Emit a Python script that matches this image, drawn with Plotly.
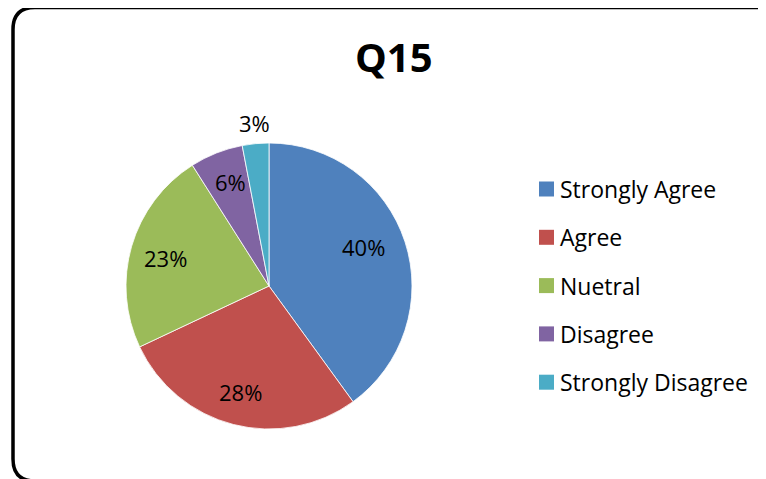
import math
import plotly.graph_objects as go

# ---- data ----
categories = ["Strongly Agree", "Agree", "Nuetral", "Disagree", "Strongly Disagree"]
values = [40, 28, 23, 6, 3]
title_text = "Q15"

# ---- styling ----
colors = ["#4F81BD", "#C0504D", "#9BBB59", "#8064A2", "#4BACC6"]
label_r = [0.711, 0.772, 0.751, 0.768, 1.134]     # label distance / radius
label_frac = [0.473, 0.508, 0.48, 0.56, 0.54]     # angular position inside slice
OX, OY = 8, 8                 # page body margin
W, H = 766 - OX, 479 - OY     # figure fills the rest of the window
FONT = "Open Sans"

cx, cy, R = 269, 286, 143  # pie centre / radius (window pixels)


def px(x):
    return (x - OX) / W


def py(y):
    return 1 - (y - OY) / H


fig = go.Figure()
fig.add_trace(go.Pie(
    labels=categories,
    values=values,
    marker=dict(colors=colors, line=dict(color="#FFFFFF", width=0.8)),
    sort=False,
    direction="clockwise",
    rotation=0,
    textinfo="none",
    hoverinfo="label+percent",
    showlegend=False,
    domain=dict(x=[px(cx - R), px(cx + R)], y=[py(cy + R), py(cy - R)]),
))

annotations = []
total = sum(values)
cum = 0.0
for v, rf, af in zip(values, label_r, label_frac):
    ang = (cum + v * af) / total * 2 * math.pi
    cum += v
    lx = cx + rf * R * math.sin(ang)
    ly = cy - rf * R * math.cos(ang) - 1
    annotations.append(dict(
        x=px(lx), y=py(ly), xref="paper", yref="paper",
        text=f"{round(v / total * 100)}%", showarrow=False,
        xanchor="center", yanchor="middle",
        font=dict(family=FONT, size=22, color="#000000"),
    ))

# title
annotations.append(dict(
    x=px(394), y=py(57), xref="paper", yref="paper", text=f"<b>{title_text}</b>",
    showarrow=False, xanchor="center", yanchor="middle",
    font=dict(family=FONT, size=40, color="#000000"),
))

shapes = []
# custom legend
leg_y0, leg_dy = 189, 48.3
for i, (cat, col) in enumerate(zip(categories, colors)):
    yc = leg_y0 + i * leg_dy
    shapes.append(dict(
        type="rect", xref="paper", yref="paper",
        x0=px(539), x1=px(554), y0=py(yc + 7.5), y1=py(yc - 7.5),
        fillcolor=col, line=dict(width=0),
    ))
    annotations.append(dict(
        x=px(558), y=py(yc), xref="paper", yref="paper", text=cat,
        showarrow=False, xanchor="left", yanchor="middle",
        font=dict(family=FONT, size=23, color="#000000"),
    ))

# rounded outer border (extends beyond right/bottom edges)
L, T, Rr, B, rad = 13, 7.5, 777, 481, 22
path = (
    f"M {px(L)},{py(T + rad)} "
    f"Q {px(L)},{py(T)} {px(L + rad)},{py(T)} "
    f"L {px(Rr - rad)},{py(T)} "
    f"Q {px(Rr)},{py(T)} {px(Rr)},{py(T + rad)} "
    f"L {px(Rr)},{py(B - rad)} "
    f"Q {px(Rr)},{py(B)} {px(Rr - rad)},{py(B)} "
    f"L {px(L + rad)},{py(B)} "
    f"Q {px(L)},{py(B)} {px(L)},{py(B - rad)} Z"
)
shapes.append(dict(type="path", xref="paper", yref="paper", path=path,
                   line=dict(color="#000000", width=3.5), layer="above"))

fig.update_layout(
    width=W, height=H,
    margin=dict(l=0, r=0, t=0, b=0),
    paper_bgcolor="#FFFFFF",
    plot_bgcolor="#FFFFFF",
    annotations=annotations,
    shapes=shapes,
    showlegend=False,
)

fig.write_html("out.html")
